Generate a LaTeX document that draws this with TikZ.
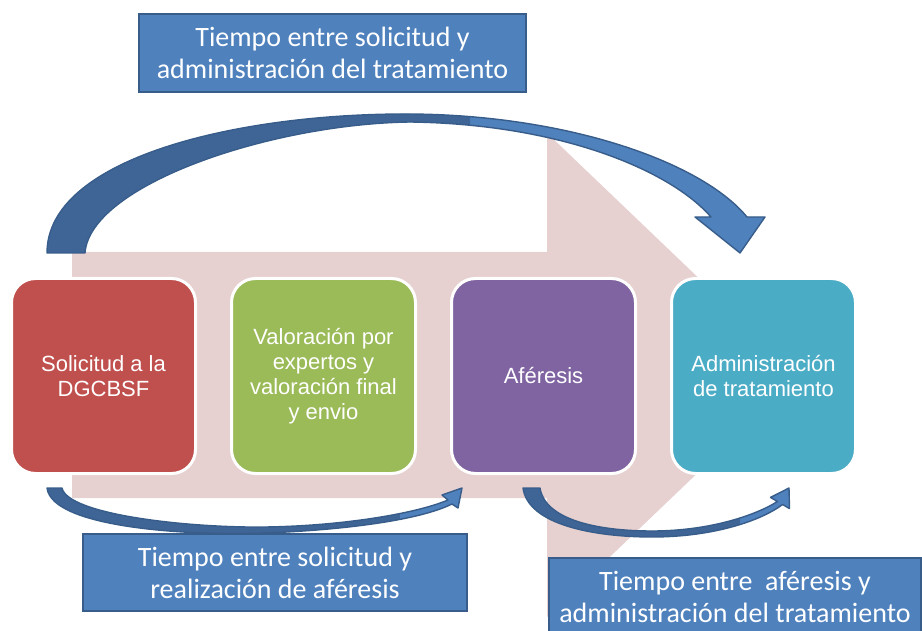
\documentclass[tikz,border=0pt]{standalone}
\usepackage{fontspec}
\setmainfont{Liberation Sans}
\newfontfamily\lblfont{Carlito}
\definecolor{bgpink}{RGB}{231,208,208}
\definecolor{cred}{RGB}{192,80,77}
\definecolor{cgreen}{RGB}{155,187,89}
\definecolor{cpurple}{RGB}{128,100,162}
\definecolor{cteal}{RGB}{75,172,198}
\definecolor{lblblue}{RGB}{79,129,189}
\definecolor{lblborder}{RGB}{56,93,138}
\definecolor{arcdark}{RGB}{62,101,150}
\definecolor{arclight}{RGB}{79,129,189}
\newcommand\toparcpath{(47,253) .. controls (47,160) and (230,115) .. (400,114) .. controls (560,113) and (700,160) .. (747,217) -- (765,217) -- (740,253) -- (695,217) -- (711,217) .. controls (670,170) and (560,124) .. (410,122) .. controls (270,124) and (90,185) .. (85,253) -- cycle}
\newcommand\leftarcpath{(47,488) .. controls (52,528) and (190,536) .. (265,533) .. controls (345,530) and (420,520) .. (452,504) -- (458,508) -- (462,488) -- (442,495) -- (448,500) .. controls (415,514) and (340,526) .. (265,527) .. controls (190,528) and (68,515) .. (62,488) -- cycle}
\newcommand\rightarcpath{(523,488) .. controls (528,525) and (595,537) .. (652,537) .. controls (715,537) and (762,520) .. (782.6,504.5) -- (789.5,508.6) -- (789,488) -- (770.5,497.4) -- (777.4,501.5) .. controls (758,514) and (712,531) .. (652,531) .. controls (598,531) and (545,520) .. (540,488) -- cycle}
\begin{document}
\begin{tikzpicture}[x=1pt,y=-1pt,
  stage/.style={draw=white, line width=3pt, rounded corners=24pt,
    minimum width=184pt, minimum height=195pt, text=white, align=center,
    font=\fontsize{22}{25}\selectfont, inner sep=2pt},
  tag/.style={draw=lblborder, line width=2.5pt, fill=lblblue, text=white,
    align=center, font=\lblfont\fontsize{28}{32}\selectfont, inner sep=2pt},
  arcline/.style={draw=lblborder, line width=1.4pt, line join=round}]
\useasboundingbox (0,0) rectangle (922,631);
\clip (0,0) rectangle (922,631);
% background big arrow
\fill[bgpink] (72,252) -- (547,252) -- (547,133) -- (800,375) -- (547,617) -- (547,498) -- (72,498) -- cycle;
% top curved arrow
\fill[arclight] \toparcpath;
\begin{scope}
  \clip (0,0) rectangle (470,300);
  \fill[arcdark] \toparcpath;
\end{scope}
\draw[arcline] \toparcpath;
% stage boxes
\node[stage, fill=cred]    (s1) at (103.5,376) {Solicitud a la\\DGCBSF};
\node[stage, fill=cgreen]  (s2) at (323.5,376) {Valoración por\\expertos y\\valoración final\\y envio};
\node[stage, fill=cpurple] (s3) at (543.5,376) {Aféresis};
\node[stage, fill=cteal]   (s4) at (763.5,376) {Administración\\de tratamiento};
% bottom curved arrows
\fill[arcdark] \leftarcpath;
\begin{scope}
  \clip (400,470) rectangle (480,540);
  \fill[arclight] \leftarcpath;
\end{scope}
\draw[arcline] \leftarcpath;
\fill[arcdark] \rightarcpath;
\begin{scope}
  \clip (740,470) rectangle (800,540);
  \fill[arclight] \rightarcpath;
\end{scope}
\draw[arcline] \rightarcpath;
% labels
\node[tag, minimum width=387pt, minimum height=78pt] (t1) at (332.5,53) {Tiempo entre solicitud y\\administración del tratamiento};
\node[tag, minimum width=384pt, minimum height=77pt] (t2) at (275,572.5) {Tiempo entre solicitud y\\realización de aféresis};
\node[tag, minimum width=372pt, minimum height=78pt] (t3) at (735,597) {Tiempo entre\ \ aféresis y\\administración del tratamiento};
\end{tikzpicture}
\end{document}
